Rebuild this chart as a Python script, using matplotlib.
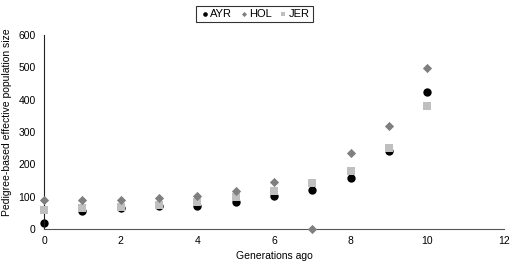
import matplotlib
matplotlib.use("Agg")
import matplotlib.pyplot as plt

plt.rcParams['font.family'] = ['Liberation Sans', 'DejaVu Sans']

generations = [0, 1, 2, 3, 4, 5, 6, 7, 8, 9, 10]
ayr = [19, 55, 64, 70, 71, 84, 101, 120, 159, 241, 423]
hol = [88, 88, 89, 95, 102, 118, 145, 0, 234, 318, 499]
jer = [60, 66, 69, 75, 83, 98, 117, 142, 179, 251, 380]

fig = plt.figure(figsize=(5.12, 2.64), dpi=100)
ax = fig.add_axes([0.086, 0.133, 0.898, 0.734])

ax.scatter(generations, ayr, marker='o', s=36, color='black', label='AYR', zorder=2, linewidths=0)
ax.scatter(generations, hol, marker='D', s=22, color='#7f7f7f', label='HOL', zorder=4, linewidths=0)
ax.scatter(generations, jer, marker='s', s=30, color='#bfbfbf', label='JER', zorder=3, linewidths=0)

ax.set_xlim(0, 12)
ax.set_ylim(0, 600)
ax.set_xticks(range(0, 13, 2))
ax.set_yticks(range(0, 601, 100))
ax.tick_params(axis='x', length=0, labelsize=7.5, pad=5)
ax.tick_params(axis='y', length=0, labelsize=7.5, pad=6)
for s in ['top', 'right']:
    ax.spines[s].set_visible(False)
ax.spines['left'].set_color('#222222')
ax.spines['bottom'].set_color('#555555')
ax.set_xlabel('Generations ago', fontsize=7.5, labelpad=4)
ax.set_ylabel('Pedigree-based effective population size', fontsize=7.5)
ax.yaxis.set_label_coords(-0.069, 0.552)
for c in ax.collections:
    c.set_clip_on(False)

leg = fig.legend(loc='upper center', bbox_to_anchor=(0.497, 1.0), ncol=3, fontsize=8,
                 frameon=True, fancybox=False, edgecolor='black', handletextpad=0.0,
                 columnspacing=0.5, borderpad=0.3, markerscale=0.55, handlelength=1.0)
leg.get_frame().set_linewidth(0.8)

fig.savefig('out.png', dpi=100)
